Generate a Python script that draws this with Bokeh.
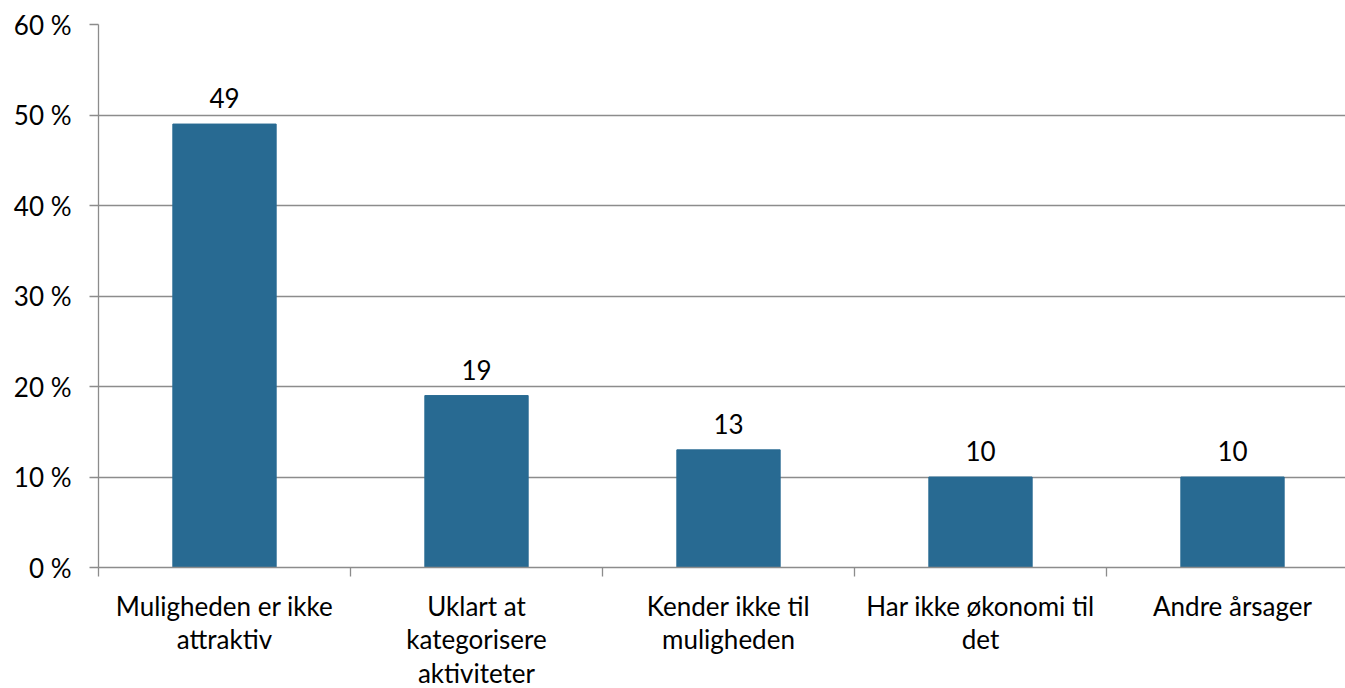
from bokeh.plotting import figure
from bokeh.models import Range1d, FixedTicker, ColumnDataSource, LabelSet
from bokeh.core.properties import value
from bokeh.embed import file_html
from bokeh.resources import INLINE

categories = ["Muligheden er ikke\nattraktiv", "Uklart at\nkategorisere\naktiviteter",
              "Kender ikke til\nmuligheden", "Har ikke økonomi til\ndet", "Andre årsager"]
values = [49, 19, 13, 10, 10]
y_ticks = [0, 10, 20, 30, 40, 50, 60]
y_tick_labels = ["0 %", "10 %", "20 %", "30 %", "40 %", "50 %", "60 %"]

FONT = "Lato"
BAR = "#286a92"
GRID = "#8c8c8c"

centers = [i + 0.5 for i in range(len(categories))]
src = ColumnDataSource(dict(x=centers, top=values, lab=[str(v) for v in values]))

p = figure(output_backend="svg", toolbar_location=None,
           frame_width=1247, frame_height=543,
           min_border_left=98, min_border_right=0, min_border_top=24, min_border_bottom=121,
           x_range=Range1d(0, 1247 / 252), y_range=Range1d(0, 60))
p.outline_line_color = None
p.background_fill_color = "white"

p.vbar(x="x", top="top", width=0.41, bottom=0, source=src, fill_color=BAR, line_color=BAR)

labels = LabelSet(x="x", y="top", text="lab", source=src, text_align="center",
                  text_baseline="middle", y_offset=26, text_font=value(FONT),
                  text_font_size="26px", text_color="black")
p.add_layout(labels)

p.xgrid.visible = False
p.ygrid.ticker = FixedTicker(ticks=y_ticks)
p.ygrid.grid_line_color = GRID
p.ygrid.grid_line_width = 1.3

p.yaxis.ticker = FixedTicker(ticks=y_ticks)
p.yaxis.major_label_overrides = {t: l for t, l in zip(y_ticks, y_tick_labels)}
p.yaxis.axis_line_color = GRID
p.yaxis.axis_line_width = 1.3
p.yaxis.major_tick_line_color = GRID
p.yaxis.major_tick_line_width = 1.3
p.yaxis.major_tick_out = 9
p.yaxis.major_tick_in = 0
p.yaxis.minor_tick_line_color = None
p.yaxis.major_label_standoff = 18
p.yaxis.major_label_text_font = FONT
p.yaxis.major_label_text_font_size = "26px"
p.yaxis.major_label_text_color = "black"

p.xaxis.ticker = FixedTicker(ticks=centers, minor_ticks=list(range(len(categories) + 1)))
p.xaxis.major_label_overrides = {c: l for c, l in zip(centers, categories)}
p.xaxis.axis_line_color = GRID
p.xaxis.axis_line_width = 1.3
p.xaxis.major_tick_line_color = None
p.xaxis.major_tick_out = 0
p.xaxis.major_tick_in = 0
p.xaxis.minor_tick_line_color = GRID
p.xaxis.minor_tick_line_width = 1.3
p.xaxis.minor_tick_out = 9
p.xaxis.minor_tick_in = 0
p.xaxis.major_label_standoff = 13
p.xaxis.major_label_text_font = FONT
p.xaxis.major_label_text_font_size = "26px"
p.xaxis.major_label_text_color = "black"
p.xaxis.major_label_text_line_height = 1.06

open("out.html", "w").write(file_html(p, INLINE))
